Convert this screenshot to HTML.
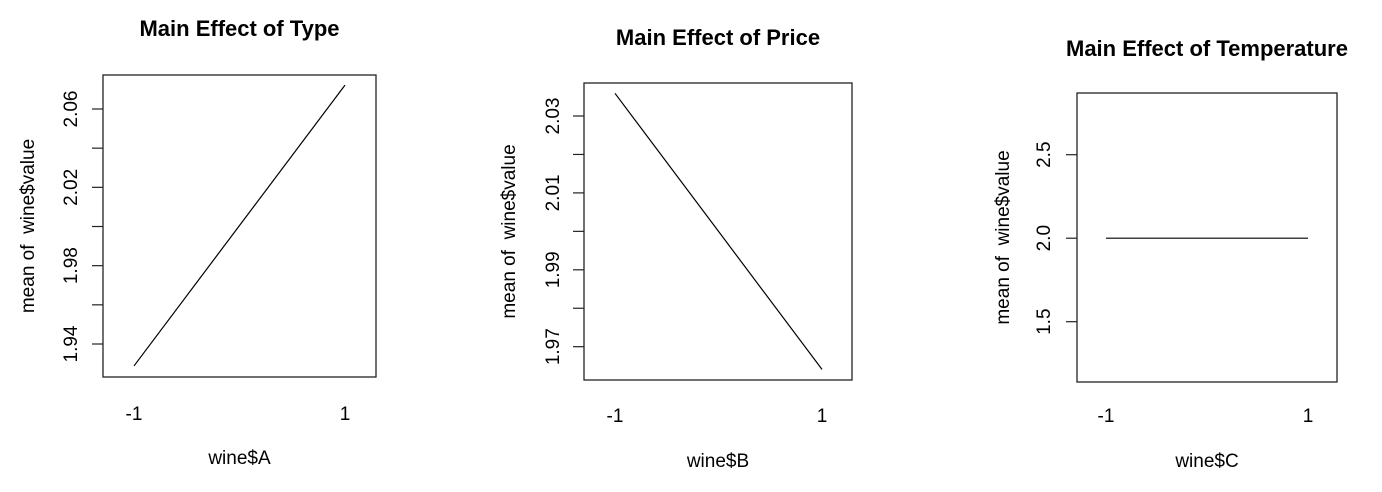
<!DOCTYPE html>
<html><head><meta charset="utf-8"><style>
body{margin:0;background:#fff;}
svg{display:block;font-family:"Liberation Sans",Arial,sans-serif;}
</style></head><body>
<svg id="chart" width="1382" height="492"></svg>
<script>
const categories = ["-1", "1"];
const typeValues = [1.9288, 2.0722];
const priceValues = [2.0359, 1.9641];
const tempValues = [2.0, 2.0];
const typeTicks = ["1.94", "1.96", "1.98", "2.00", "2.02", "2.04", "2.06"];
const priceTicks = ["1.97", "1.98", "1.99", "2.00", "2.01", "2.02", "2.03"];
const tempTicks = ["1.5", "2.0", "2.5"];
const typeTickLabels = ["1.94", "", "1.98", "", "2.02", "", "2.06"];
const priceTickLabels = ["1.97", "", "1.99", "", "2.01", "", "2.03"];
const tempTickLabels = ["1.5", "2.0", "2.5"];
const titles = ["Main Effect of Type", "Main Effect of Price", "Main Effect of Temperature"];
const xLabels = ["wine$A", "wine$B", "wine$C"];

const NS = "http://www.w3.org/2000/svg";
const svg = document.getElementById("chart");
function mk(tag, attrs, parent) {
  const e = document.createElementNS(NS, tag);
  for (const k in attrs) e.setAttribute(k, attrs[k]);
  (parent || svg).appendChild(e);
  return e;
}
const panels = [
  {key:"type", vals:typeValues, ticks:typeTicks, labels:typeTickLabels, box:[103,75,376,377], ref:[1.94,344,2.06,109], xs:[134,345], tlx:70, ylx:27, ty:36, xty:413, xly:457},
  {key:"price", vals:priceValues, ticks:priceTicks, labels:priceTickLabels, box:[584,83,852,380], ref:[1.97,346.7,2.03,116], xs:[615,822], tlx:552, ylx:508, ty:45, xty:415, xly:460},
  {key:"temperature", vals:tempValues, ticks:tempTicks, labels:tempTickLabels, box:[1077,93,1337,382], ref:[1.5,321.7,2.5,154.7], xs:[1106,1308], tlx:1043, ylx:1002, ty:56, xty:415, xly:460}
];
panels.forEach((p, i) => {
  const g = mk("g", {});
  
  
  const [x0,y0,x1,y1] = p.box;
  const yScale = v => p.ref[1] + (v - p.ref[0]) * (p.ref[3] - p.ref[1]) / (p.ref[2] - p.ref[0]);
  const xScale = j => p.xs[0] + j * (p.xs[1] - p.xs[0]) / (categories.length - 1);
  const cx = (x0 + x1) / 2;
  const t = mk("text", {x:cx, y:p.ty, "text-anchor":"middle", "font-size":22, "font-weight":"bold", fill:"#000"}, g);
  t.textContent = titles[i];
  
  
  const r = mk("rect", {x:x0, y:y0, width:x1-x0, height:y1-y0, fill:"none", stroke:"#222", "stroke-width":1.3}, g);
  
  
  p.ticks.forEach((tv, k) => {
    const y = yScale(parseFloat(tv));
    const tk = mk("line", {x1:x0-11, x2:x0, y1:y, y2:y, stroke:"#222", "stroke-width":1.2}, g);
    
    
    if (p.labels[k]) {
      const lt = mk("text", {x:0, y:0, transform:`translate(${p.tlx+7},${y}) rotate(-90)`, "text-anchor":"middle", "font-size":19, fill:"#000"}, g);
      lt.textContent = p.labels[k];
      
      
    }
  });
  categories.forEach((c, j) => {
    const xt = mk("text", {x:xScale(j), y:p.xty+7, "text-anchor":"middle", "font-size":19, fill:"#000"}, g);
    xt.textContent = c;
    
    
  });
  const yl = mk("text", {x:0, y:0, transform:`translate(${p.ylx+7},${(y0+y1)/2}) rotate(-90)`, "text-anchor":"middle", "font-size":19, fill:"#000", style:"white-space:pre"}, g);
  yl.textContent = "mean of  wine$value";
  
  
  const xl = mk("text", {x:cx, y:p.xly+7, "text-anchor":"middle", "font-size":19, fill:"#000"}, g);
  xl.textContent = xLabels[i];
  
  
  const pts = p.vals.map((v, j) => xScale(j) + "," + yScale(v)).join(" ");
  const pl = mk("polyline", {points:pts, fill:"none", stroke:"#000", "stroke-width":1.2}, g);
  
  
});
</script>
</body></html>
